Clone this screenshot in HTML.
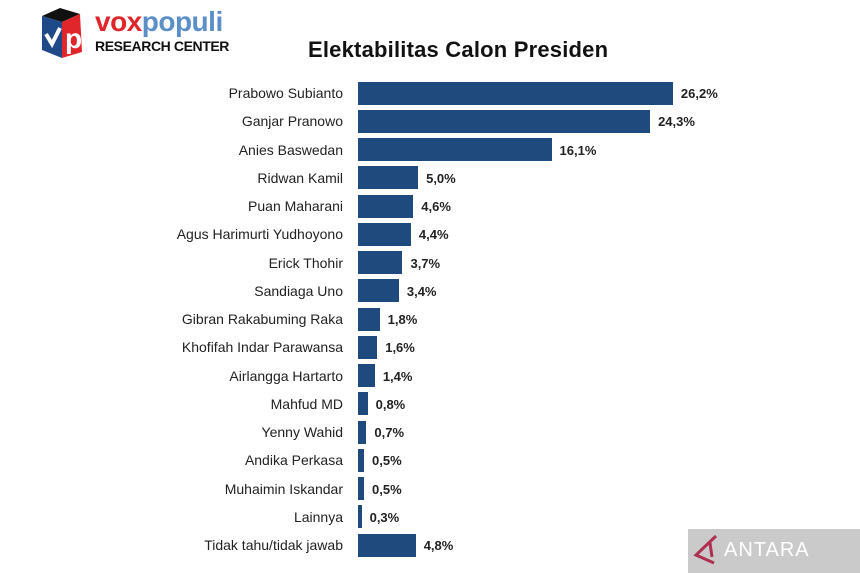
<!DOCTYPE html>
<html><head><meta charset="utf-8"><style>
body{margin:0;width:860px;height:573px;background:#fff;position:relative;overflow:hidden;font-family:"Liberation Sans",sans-serif}
.l{position:absolute;right:517px;font-size:14px;color:#222;white-space:nowrap;line-height:16px}
.b{position:absolute;left:358px;height:23px;background:#1f4a7e}
.v{position:absolute;font-size:13px;font-weight:bold;color:#222;line-height:16px}
</style></head><body>
<svg style="position:absolute;left:38px;top:8px" width="56" height="50" viewBox="0 0 56 50">
<polygon points="4,8 22,0 42,6 24,14" fill="#111"/>
<polygon points="4,8 24,14 24,50 4,42" fill="#1f4a8a"/>
<polygon points="24,14 42,6 44,44 24,50" fill="#e0262b"/>
<path d="M8,26 L14,36 L22,20" stroke="#fff" stroke-width="4" fill="none"/>
<text x="27" y="40" font-family="Liberation Sans" font-weight="bold" font-size="28" fill="#fff">p</text>
</svg>
<div style="position:absolute;left:95px;top:7px;font-size:28px;font-weight:bold;line-height:30px;letter-spacing:-0.5px"><span style="color:#e0262b">vox</span><span style="color:#5b8fc9">populi</span></div>
<div style="position:absolute;left:95px;top:38px;font-size:14px;font-weight:bold;color:#111;letter-spacing:-0.4px">RESEARCH CENTER</div>
<div style="position:absolute;left:308px;top:37px;font-size:22px;font-weight:bold;color:#111;letter-spacing:0.2px">Elektabilitas Calon Presiden</div>
<div id="c"></div>
<div style="position:absolute;left:688px;top:529px;width:172px;height:44px;background:#cacaca"></div>
<svg style="position:absolute;left:692px;top:533px" width="30" height="36"><path d="M24,3 L4,22 L22,30 M18,10 L20,24" stroke="#b03050" stroke-width="3" fill="none"/></svg>
<div style="position:absolute;left:724px;top:539px;font-size:20px;color:#fff;letter-spacing:1px">ANTARA</div>
<script>
var d=[["Prabowo Subianto",26.2],["Ganjar Pranowo",24.3],["Anies Baswedan",16.1],["Ridwan Kamil",5.0],["Puan Maharani",4.6],["Agus Harimurti Yudhoyono",4.4],["Erick Thohir",3.7],["Sandiaga Uno",3.4],["Gibran Rakabuming Raka",1.8],["Khofifah Indar Parawansa",1.6],["Airlangga Hartarto",1.4],["Mahfud MD",0.8],["Yenny Wahid",0.7],["Andika Perkasa",0.5],["Muhaimin Iskandar",0.5],["Lainnya",0.3],["Tidak tahu/tidak jawab",4.8]];
var h="";d.forEach(function(r,i){var c=93+i*28.25,w=r[1]*12.02;
h+='<div class="l" style="top:'+(c-8)+'px">'+r[0]+'</div><div class="b" style="top:'+(c-11.5)+'px;width:'+w+'px"></div><div class="v" style="top:'+(c-7)+'px;left:'+(358+w+8)+'px">'+r[1].toFixed(1).replace(".",",")+'%</div>';});
document.getElementById("c").innerHTML=h;
</script>
</body></html>
